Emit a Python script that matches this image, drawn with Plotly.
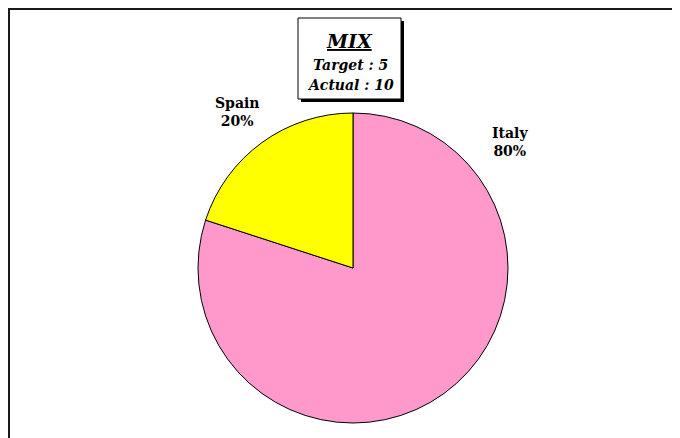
import plotly.graph_objects as go

# Data
categories = ["Spain", "Italy"]
values = [2, 8]
colors = ["#FFFF00", "#FF99CC"]
title_main = "MIX"
target_value = 5
actual_value = 10

W, H = 680, 438
OFF = 8  # page body margin offset

def px(x):
    return (x - OFF) / W

def py(y):
    return 1 - (y - OFF) / H

total = sum(values)
pcts = [round(100 * v / total) for v in values]

# Spain runs counterclockwise from 12 o'clock: draw clockwise with reversed order
fig = go.Figure(go.Pie(
    labels=categories[::-1],
    values=values[::-1],
    sort=False,
    direction="clockwise",
    rotation=0,
    marker=dict(colors=colors[::-1], line=dict(color="#000000", width=1)),
    textinfo="none",
    hoverinfo="skip",
    domain=dict(x=[px(198), px(508)], y=[py(423), py(113)]),
    showlegend=False,
))

font_serif = "DejaVu Serif"

label_pos = {"Spain": (237, 112), "Italy": (510, 142)}
for cat, p in zip(categories, pcts):
    x, y = label_pos[cat]
    fig.add_annotation(
        x=px(x), y=py(y), xref="paper", yref="paper",
        text=f"<b>{cat}<br>{p}%</b>", showarrow=False,
        font=dict(family=font_serif, size=14, color="#000000"),
        align="center", xanchor="center", yanchor="middle",
    )

shapes = [
    dict(type="rect", xref="paper", yref="paper",
         x0=px(9), x1=px(720), y0=py(480), y1=py(9),
         line=dict(color="#1a1a1a", width=2), fillcolor="rgba(0,0,0,0)"),
    dict(type="rect", xref="paper", yref="paper",
         x0=px(301), x1=px(404), y0=py(102), y1=py(21),
         line=dict(color="#000000", width=0), fillcolor="#000000"),
    dict(type="rect", xref="paper", yref="paper",
         x0=px(298), x1=px(401), y0=py(99), y1=py(18),
         line=dict(color="#000000", width=1), fillcolor="#FFFFFF"),
]
fig.update_layout(shapes=shapes)

fig.add_annotation(
    x=px(349), y=py(41), xref="paper", yref="paper",
    text=f"<b><i><u>{title_main}</u></i></b>", showarrow=False,
    font=dict(family=font_serif, size=19, color="#000000"),
    xanchor="center", yanchor="middle",
)
fig.add_annotation(
    x=px(350), y=py(65), xref="paper", yref="paper",
    text=f"<b><i>Target : {target_value}</i></b>", showarrow=False,
    font=dict(family=font_serif, size=14, color="#000000"),
    xanchor="center", yanchor="middle",
)
fig.add_annotation(
    x=px(350), y=py(85), xref="paper", yref="paper",
    text=f"<b><i>Actual : {actual_value}</i></b>", showarrow=False,
    font=dict(family=font_serif, size=14, color="#000000"),
    xanchor="center", yanchor="middle",
)

fig.update_layout(
    width=W, height=H,
    margin=dict(l=0, r=0, t=0, b=0),
    paper_bgcolor="#FFFFFF",
    plot_bgcolor="#FFFFFF",
)

fig.write_html("out.html")
